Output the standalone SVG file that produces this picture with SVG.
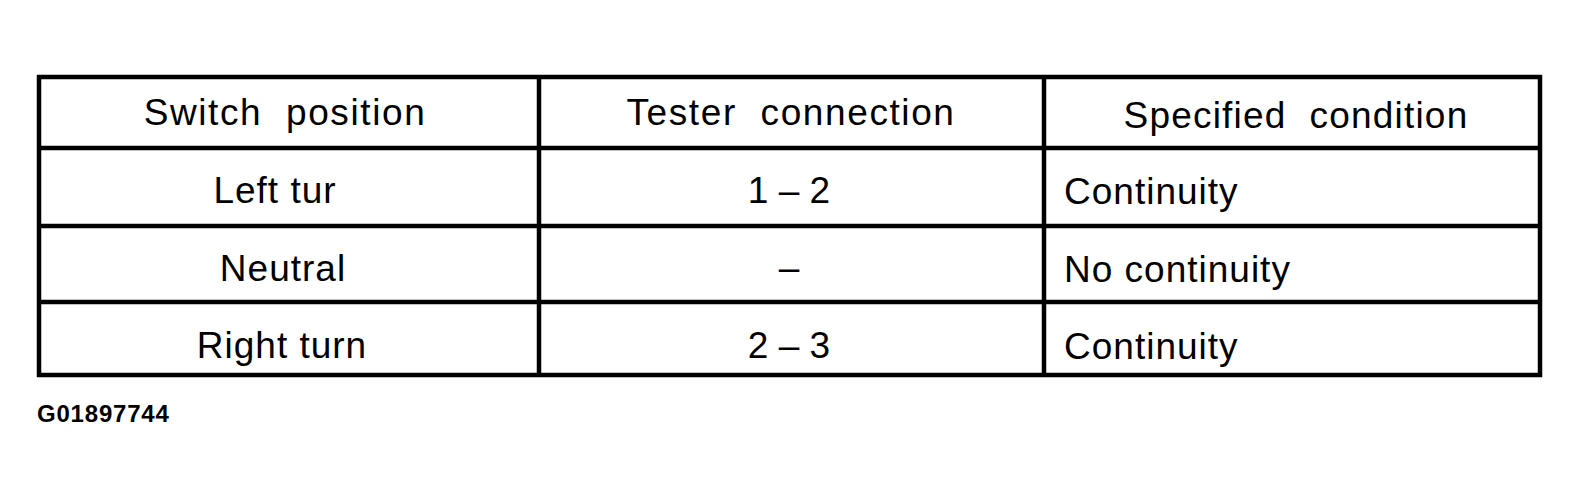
<svg xmlns="http://www.w3.org/2000/svg" width="1579" height="497" viewBox="0 0 1579 497">
<style>
.t{font-family:"Liberation Sans",Arial,sans-serif;font-size:37px;fill:#000}
.h{letter-spacing:1.6px}
.h2{letter-spacing:1.2px}
.r{letter-spacing:1px}
.c{text-anchor:middle}
.f{font-family:"Liberation Sans",Arial,sans-serif;font-size:24px;font-weight:bold;letter-spacing:0.8px;fill:#000}
.ln{stroke:#000;stroke-width:4.5;fill:none}
</style>
<rect width="1579" height="497" fill="#fff"/>
<g id="grid">
<rect class="ln" x="39" y="77" width="1501" height="298"/>
<line class="ln" x1="539" y1="77" x2="539" y2="375"/>
<line class="ln" x1="1044" y1="77" x2="1044" y2="375"/>
<line class="ln" x1="39" y1="148" x2="1540" y2="148"/>
<line class="ln" x1="39" y1="226" x2="1540" y2="226"/>
<line class="ln" x1="39" y1="302" x2="1540" y2="302"/>
</g>
<g id="header">
<text class="t c h" x="285" y="125" xml:space="preserve">Switch  position</text>
<text class="t c h" x="791" y="125" xml:space="preserve">Tester  connection</text>
<text class="t c h2" x="1296" y="128" xml:space="preserve">Specified  condition</text>
</g>
<g id="row1">
<text class="t c r" x="275" y="203">Left tur</text>
<text class="t c" x="789" y="203">1 – 2</text>
<text class="t r" x="1064" y="204">Continuity</text>
</g>
<g id="row2">
<text class="t c r" x="283" y="281">Neutral</text>
<text class="t c" x="789" y="280">–</text>
<text class="t r" x="1064" y="282">No continuity</text>
</g>
<g id="row3">
<text class="t c r" x="282" y="358">Right turn</text>
<text class="t c" x="789" y="358">2 – 3</text>
<text class="t r" x="1064" y="359">Continuity</text>
</g>
<g id="footer">
<text class="f" x="37" y="422">G01897744</text>
</g>
</svg>
